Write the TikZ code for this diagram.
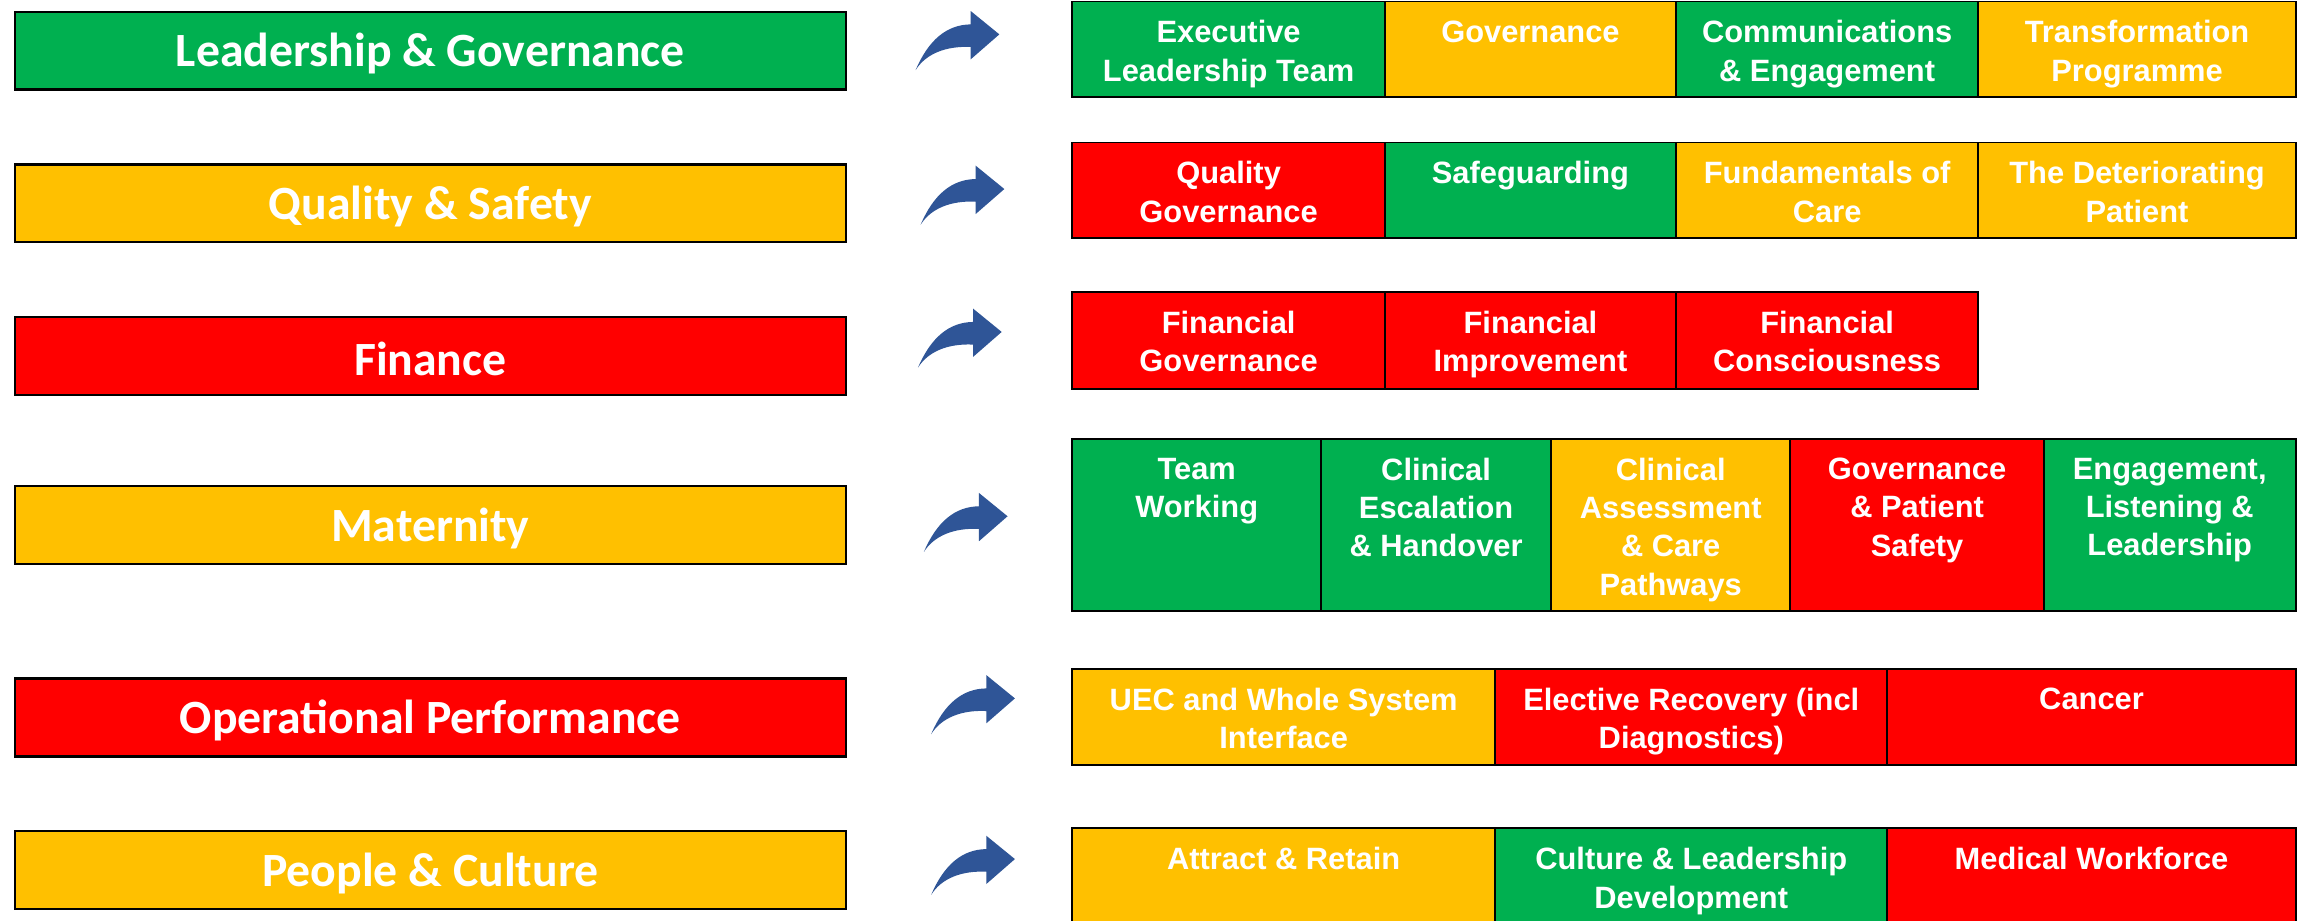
\documentclass[tikz,border=0pt]{standalone}
\usepackage{fontspec}
\newfontfamily\calibri{Carlito}
\newfontfamily\arialf{Liberation Sans}
\definecolor{rgGreen}{HTML}{00B050}
\definecolor{rgAmber}{HTML}{FFC000}
\definecolor{rgRed}{HTML}{FF0000}
\definecolor{arrowblue}{HTML}{2F5597}
\tikzset{
  cellbx/.style={draw=black, line width=1.3pt, inner sep=0pt, outer sep=0pt},
  celltxt/.style={text=white, font=\arialf\bfseries\fontsize{21}{26}\selectfont, align=center, inner sep=0pt, anchor=north},
  mainbx/.style={draw=black, line width=1.5pt, minimum width=566pt, minimum height=53pt, inner sep=0pt},
  maintxt/.style={text=white, inner sep=0pt, font=\calibri\bfseries\fontsize{32.5}{38}\selectfont},
  curvarrow/.pic={
    \fill[arrowblue] (-57,24.3) .. controls (-48.3,3.9) and (-35.9,-6.6) .. (-19.5,-6.8)
      -- (-19.5,-15.9) -- (0,0) -- (-19.5,17) -- (-19.5,8.6)
      .. controls (-36.5,7.8) and (-50,13.2) .. (-57,24.3) -- cycle;
  }
}
\newcommand{\mkcell}[7]{%
  \node[cellbx, fill=#6, minimum width={(#3-#2)*1pt}, minimum height={(#5-#4)*1pt}, anchor=north west] (#1) at (#2,#4) {};
  \node[celltxt] (#1-t) at ([yshift=-12.8pt]#1.north) {#7};
}
\newcommand{\mkmain}[4]{%
  \node[mainbx, fill=#3] (#1) at (293,#2) {};
  \node[maintxt] (#1-t) at ([yshift=-2pt]#1.center) {#4};
}
\begin{document}
\begin{tikzpicture}[x=1pt,y=-1pt]
\useasboundingbox[fill=white] (0,0) rectangle (1568,627);

% left headline boxes
\mkmain{lg}{34.5}{rgGreen}{Leadership \& Governance}
\mkmain{qs}{138.5}{rgAmber}{Quality \& Safety}
\mkmain{fi}{242.5}{rgRed}{Finance}
\mkmain{ma}{357.5}{rgAmber}{Maternity}
\mkmain{op}{488.5}{rgRed}{Operational Performance}
\mkmain{pc}{592.5}{rgAmber}{People \& Culture}

% arrows
\pic (a1) at (680.4,23.4) {curvarrow};
\pic (a2) at (683.8,128.7) {curvarrow};
\pic (a3) at (682,226) {curvarrow};
\pic (a4) at (686,351.5) {curvarrow};
\pic (a5) at (691,475.5) {curvarrow};
\pic (a6) at (691,584.9) {curvarrow};

% row 1
\mkcell{r1a}{730}{943}{1}{66}{rgGreen}{Executive\\Leadership Team}
\mkcell{r1b}{943}{1141}{1}{66}{rgAmber}{Governance}
\mkcell{r1c}{1141}{1347}{1}{66}{rgGreen}{Communications\\\& Engagement}
\mkcell{r1d}{1347}{1563}{1}{66}{rgAmber}{Transformation\\Programme}

% row 2
\mkcell{r2a}{730}{943}{97}{162}{rgRed}{Quality\\Governance}
\mkcell{r2b}{943}{1141}{97}{162}{rgGreen}{Safeguarding}
\mkcell{r2c}{1141}{1347}{97}{162}{rgAmber}{Fundamentals of\\Care}
\mkcell{r2d}{1347}{1563}{97}{162}{rgAmber}{The Deteriorating\\Patient}

% row 3
\mkcell{r3a}{730}{943}{199}{265}{rgRed}{Financial\\Governance}
\mkcell{r3b}{943}{1141}{199}{265}{rgRed}{Financial\\Improvement}
\mkcell{r3c}{1141}{1347}{199}{265}{rgRed}{Financial\\Consciousness}

% row 4
\mkcell{r4a}{730}{899.5}{299}{416}{rgGreen}{Team\\Working}
\mkcell{r4b}{899.5}{1056}{299}{416}{rgGreen}{Clinical\\Escalation\\\& Handover}
\mkcell{r4c}{1056}{1219}{299}{416}{rgAmber}{Clinical\\Assessment\\\& Care\\Pathways}
\mkcell{r4d}{1219}{1391.5}{299}{416}{rgRed}{Governance\\\& Patient\\Safety}
\mkcell{r4e}{1391.5}{1563}{299}{416}{rgGreen}{Engagement,\\Listening \&\\Leadership}

% row 5
\mkcell{r5a}{730}{1018}{455.5}{521}{rgAmber}{UEC and Whole System\\Interface}
\mkcell{r5b}{1018}{1285}{455.5}{521}{rgRed}{Elective Recovery (incl\\Diagnostics)}
\mkcell{r5c}{1285}{1563}{455.5}{521}{rgRed}{Cancer}

% row 6
\mkcell{r6a}{730}{1018}{564}{628}{rgAmber}{Attract \& Retain}
\mkcell{r6b}{1018}{1285}{564}{628}{rgGreen}{Culture \& Leadership\\Development}
\mkcell{r6c}{1285}{1563}{564}{628}{rgRed}{Medical Workforce}
\end{tikzpicture}
\end{document}
